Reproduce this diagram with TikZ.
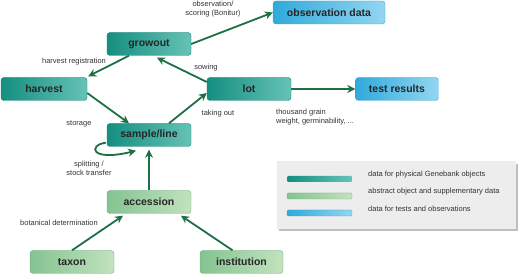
\documentclass[tikz,border=0pt]{standalone}
\usepackage{fontspec}
\setmainfont{Liberation Sans}
\usetikzlibrary{arrows.meta,shadows}
\definecolor{tealdark}{HTML}{148F80}
\definecolor{teallight}{HTML}{66C2B6}
\definecolor{tealline}{HTML}{0F7D70}
\definecolor{greendark}{HTML}{84C391}
\definecolor{greenlight}{HTML}{C2E2BE}
\definecolor{greenline}{HTML}{6FAE7E}
\definecolor{bluedark}{HTML}{30AADB}
\definecolor{bluelight}{HTML}{93D6F1}
\definecolor{blueline}{HTML}{3AA3CE}
\definecolor{arrowgreen}{HTML}{1B7044}
\definecolor{labelgray}{HTML}{333333}
\begin{document}
\begin{tikzpicture}[x=1pt, y=-1pt,
    box/.style={rounded corners=3pt, minimum width=84pt, minimum height=23pt, inner sep=0pt,
        font=\fontsize{10.5}{12}\selectfont\bfseries, text=black!85},
    physical/.style={box, draw=tealline, left color=tealdark, right color=teallight},
    abstract/.style={box, draw=greenline, left color=greendark, right color=greenlight},
    testdata/.style={box, draw=blueline, left color=bluedark, right color=bluelight},
    lbl/.style={font=\fontsize{7.5}{9}\selectfont, text=labelgray, align=center, inner sep=0pt},
    arr/.style={draw=arrowgreen, line width=1.8pt, -{Stealth[length=8pt,width=8pt]}},
    bar/.style={rounded corners=1pt, minimum width=65pt, minimum height=6pt, inner sep=0pt}]
    \useasboundingbox (0,0) rectangle (520,275);

    % object boxes
    \node[physical] (growout) at (149,44) {growout};
    \node[physical, minimum width=86pt] (harvest) at (44,89) {harvest};
    \node[physical] (lot) at (249,89) {lot};
    \node[physical] (sample) at (149,135) {sample/line};
    \node[testdata, minimum width=112pt] (obs) at (329,12.5) {observation data};
    \node[testdata, minimum width=83pt] (test) at (397,89) {test results};
    \node[abstract] (accession) at (149,202) {accession};
    \node[abstract] (taxon) at (72,262) {taxon};
    \node[abstract, minimum width=83pt] (institution) at (241.5,262) {institution};

    % connectors
    \draw[arr] (growout.east) -- (obs.west);
    \draw[arr] ([xshift=-20pt]growout.south) -- ([xshift=1pt,yshift=1pt]harvest.north east);
    \draw[arr] ([yshift=-4pt]harvest.east) -- ([xshift=-20pt]sample.north);
    \draw[arr] ([xshift=20pt]sample.north) -- ([yshift=-4pt]lot.west);
    \draw[arr] ([yshift=7pt]lot.west) -- ([xshift=8pt,yshift=-2pt]growout.south);
    \draw[arr] (lot.east) -- (test.west);
    \draw[arr] (accession.north) -- ([yshift=-3pt]sample.south);
    \draw[arr] (taxon.north) -- ([xshift=-26pt,yshift=-2pt]accession.south);
    \draw[arr] ([xshift=-9pt]institution.north) -- ([xshift=32pt,yshift=-2pt]accession.south);
    \draw[arr] ([xshift=-1pt,yshift=4pt]sample.south west)
        .. controls (88,145) and (90,162) .. ([xshift=-13pt,yshift=-4pt]sample.south);

    % connector labels
    \node[lbl] (lobs) at (213,9.5) {observation/\\scoring (Bonitur)};
    \node[lbl] (lharv) at (74,62) {harvest registration};
    \node[lbl] (lsow) at (206,68) {sowing};
    \node[lbl] (lstor) at (79,124) {storage};
    \node[lbl] (ltake) at (218,114) {taking out};
    \node[lbl, align=left, anchor=west] (ltest) at (276,117.5) {thousand grain\\weight, germinability, ...};
    \node[lbl] (lsplit) at (89,168.5) {splitting /\\stock transfer};
    \node[lbl] (lbot) at (59,223) {botanical determination};

    % legend
    \fill[black!25] (279,164) rectangle (518,231);
    \fill[black!7] (277,161) rectangle (516,229);
    \node[bar, left color=tealdark, right color=teallight] (bphys) at (319.5,179) {};
    \node[bar, left color=greendark, right color=greenlight, draw=greenline, line width=0.3pt] (babs) at (319.5,196) {};
    \node[bar, left color=bluedark, right color=bluelight, draw=blueline, line width=0.3pt] (btest) at (319.5,213) {};
    \node[lbl, anchor=west] (tphys) at (368,175) {data for physical Genebank objects};
    \node[lbl, anchor=west] (tabs) at (368,192) {abstract object and supplementary data};
    \node[lbl, anchor=west] (ttest) at (368,209) {data for tests and observations};
\end{tikzpicture}
\end{document}
